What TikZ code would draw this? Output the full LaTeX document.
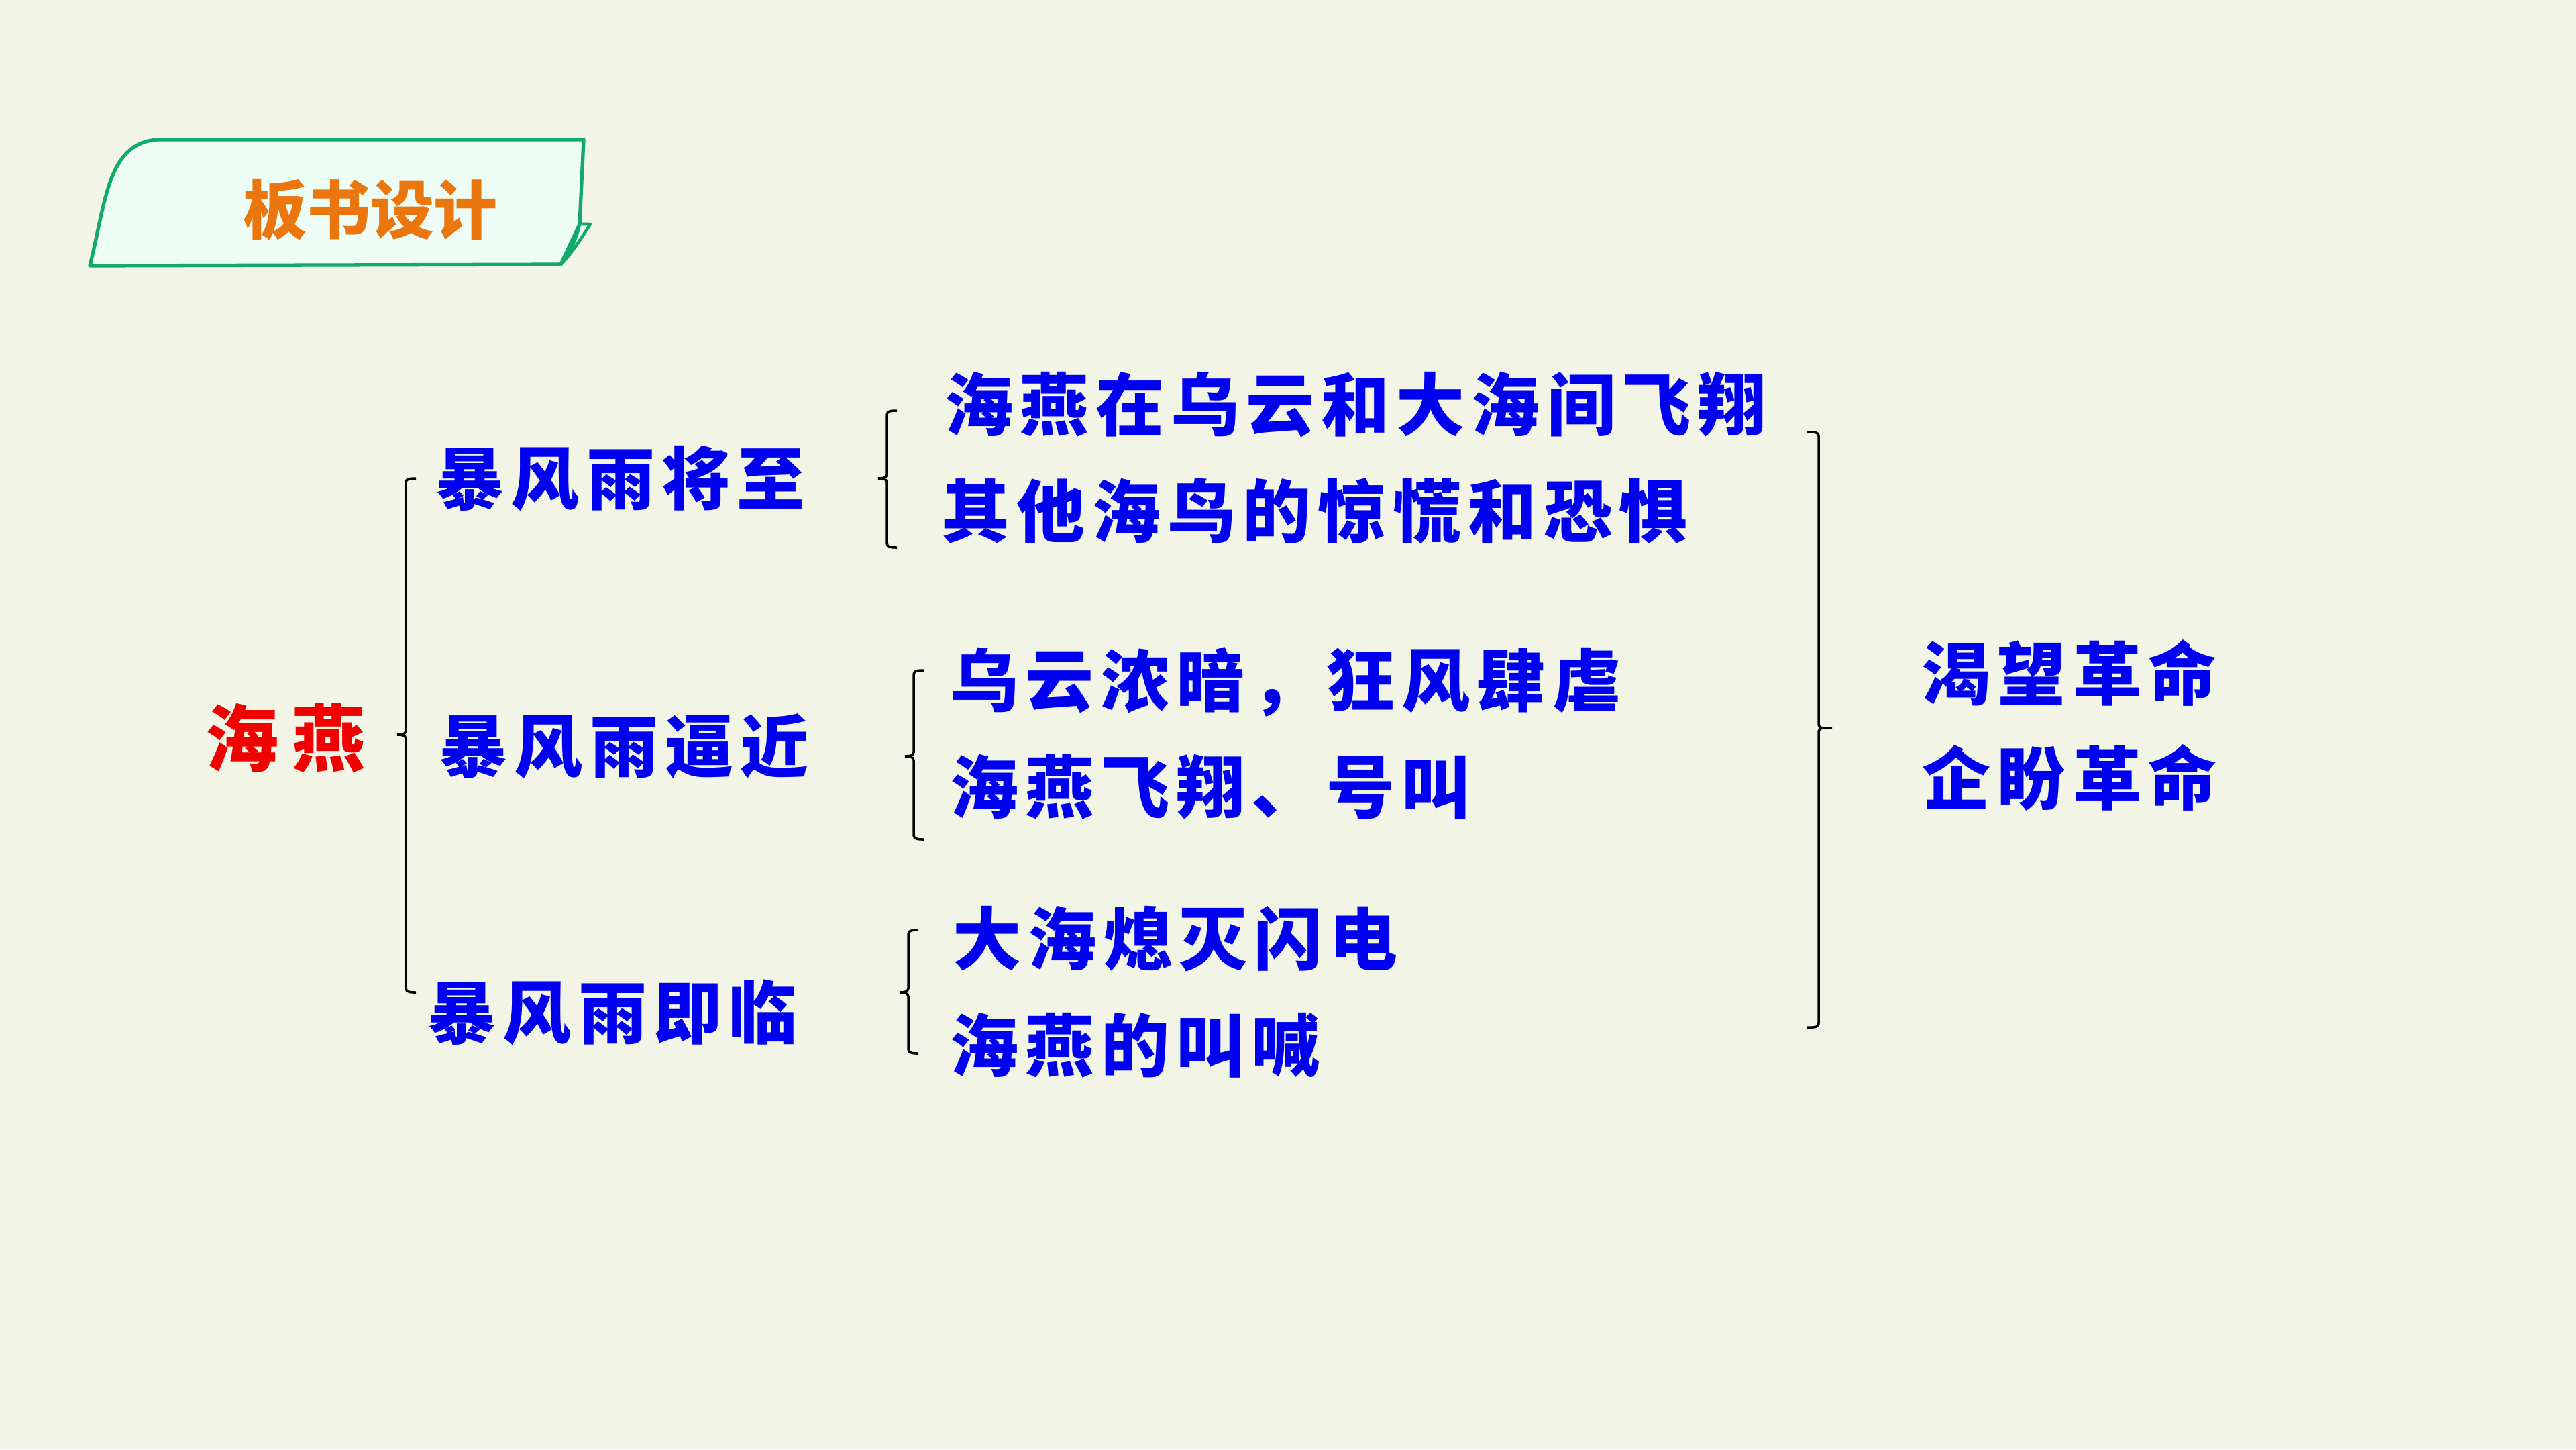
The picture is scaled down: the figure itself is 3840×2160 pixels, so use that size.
\documentclass[tikz,border=0pt]{standalone}
\usepackage{fontspec}
\newfontfamily\cjkwide{Noto Sans CJK SC}[LetterSpace=10]
\newfontfamily\cjkred{Noto Sans CJK SC}[LetterSpace=18]
\newfontfamily\cjktitle{Noto Sans CJK SC}
\definecolor{bgc}{RGB}{242,244,230}
\definecolor{tagfill}{RGB}{237,252,244}
\definecolor{tagline}{RGB}{18,170,108}
\definecolor{tagtext}{RGB}{236,118,14}
\definecolor{bluet}{RGB}{0,0,240}
\definecolor{redt}{RGB}{240,0,0}
\tikzset{
  bluetext/.style={text=bluet, font=\cjkwide\bfseries\fontsize{29pt}{32pt}\selectfont,
    anchor=west, inner sep=0pt, text height=25.5pt, text depth=3.5pt},
  redtext/.style={text=redt, font=\cjkred\bfseries\fontsize{31pt}{34pt}\selectfont,
    anchor=west, inner sep=0pt, text height=27.3pt, text depth=3.7pt},
  brk/.style={draw=black, line width=1pt},
}
% left-opening bracket: x, ytop, ymid, ybot
\newcommand{\mybrkL}[4]{%
  \draw[brk] (#1+15,#2) to[out=180,in=90] (#1,#2+6) -- (#1,#3-6)
    to[out=-90,in=0] (#1-13,#3) to[out=0,in=90] (#1,#3+6) -- (#1,#4-6)
    to[out=-90,in=180] (#1+15,#4);}
\newcommand{\mybrkR}[4]{%
  \draw[brk] (#1-17,#2) to[out=0,in=90] (#1,#2+6) -- (#1,#3-6)
    to[out=-90,in=180] (#1+20,#3) to[out=180,in=90] (#1,#3+6) -- (#1,#4-6)
    to[out=-90,in=0] (#1-17,#4);}
\begin{document}
\begin{tikzpicture}[x=0.01cm,y=-0.01cm]
\fill[bgc] (0,0) rectangle (3840,2160);
\useasboundingbox (0,0) rectangle (3840,2160);
% title tag
\draw[tagline, line width=1.5pt, fill=tagfill, line join=round]
  (134,396) .. controls (158,300) and (160,212) .. (236,208)
  -- (870,208) -- (864,334) -- (836,394) -- cycle;
\draw[tagline, line width=1.3pt, fill=tagfill, line join=round]
  (864,334) -- (880,334) .. controls (862,362) and (850,380) .. (836,394)
  .. controls (850,375) and (860,355) .. (864,334) -- cycle;
\node[text=tagtext, font=\cjktitle\bfseries\fontsize{27pt}{30pt}\selectfont, inner sep=0pt] (title) at (552,313) {板书设计};
% nodes
\node[redtext] (hy) at (306,1100) {海燕};
\node[bluetext] (t1) at (649,713) {暴风雨将至};
\node[bluetext] (t2) at (654,1112) {暴风雨逼近};
\node[bluetext] (t3) at (637,1509) {暴风雨即临};
\node[bluetext] (a1) at (1408,603) {海燕在乌云和大海间飞翔};
\node[bluetext] (a2) at (1403,762) {其他海鸟的惊慌和恐惧};
\node[bluetext] (b1) at (1416,1014) {乌云浓暗，狂风肆虐};
\node[bluetext] (b2) at (1416,1173) {海燕飞翔、号叫};
\node[bluetext] (c1) at (1420,1399) {大海熄灭闪电};
\node[bluetext] (c2) at (1416,1558) {海燕的叫喊};
\node[bluetext] (r1) at (2865,1004) {渴望革命};
\node[bluetext] (r2) at (2865,1160) {企盼革命};
% brackets
\mybrkL{605}{713}{1095}{1479}
\mybrkL{1322}{612}{713}{816}
\mybrkL{1362}{999}{1127}{1251}
\mybrkL{1354}{1386}{1479}{1570}
\mybrkR{2711}{644}{1085}{1531}
\end{tikzpicture}
\end{document}
